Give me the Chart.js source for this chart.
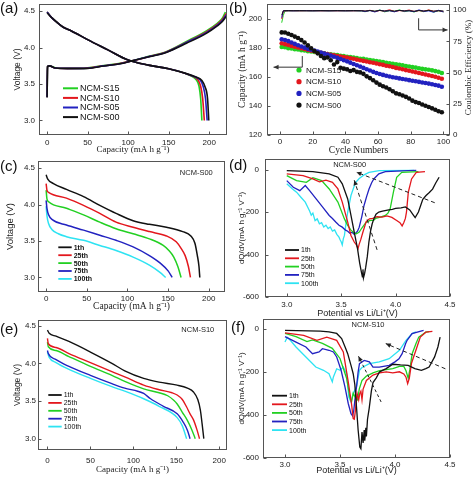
<!DOCTYPE html>
<html>
<head>
<meta charset="utf-8">
<script src="https://cdn.jsdelivr.net/npm/chart.js@4.4.1/dist/chart.umd.min.js"></script>
<style>
  body { margin: 0; background: #fff; }
  #page { position: relative; width: 474px; height: 480px; overflow: hidden; background: #fff; }
  #page canvas { position: absolute; }
  .tag { position: absolute; font: 15px "Liberation Sans", Arial, sans-serif; line-height: 15px; color: #111; z-index: 5; }
</style>
</head>
<body>
<div id="page">
  <canvas id="pa" width="237" height="155" style="left:0;top:0"></canvas>
  <canvas id="pb" width="237" height="156" style="left:237px;top:0"></canvas>
  <canvas id="pc" width="237" height="154" style="left:0;top:158px"></canvas>
  <canvas id="pd" width="237" height="163" style="left:237px;top:156px"></canvas>
  <canvas id="pe" width="237" height="158" style="left:0;top:317px"></canvas>
  <canvas id="pf" width="237" height="160" style="left:237px;top:316px"></canvas>
  <div class="tag" style="left:0;top:0">(a)</div>
  <div class="tag" style="left:229px;top:0">(b)</div>
  <div class="tag" style="left:0;top:158px">(c)</div>
  <div class="tag" style="left:229px;top:157px">(d)</div>
  <div class="tag" style="left:0;top:321px">(e)</div>
  <div class="tag" style="left:231px;top:319px">(f)</div>
</div>
<script>
// ---------- data ----------
// (a) first cycle, [capacity, voltage]
const aChgS15 = [[0,3.32],[0.5,3.74],[3,3.75],[10,3.725],[25,3.72],[50,3.725],[70,3.755],[90,3.785],[105,3.82],[127,3.885],[147,3.945],[172,4.085],[197,4.235],[210,4.335],[216,4.40],[220,4.49]];
const aChgS10 = [[0,3.32],[0.5,3.74],[3,3.75],[10,3.72],[25,3.715],[50,3.72],[70,3.752],[90,3.782],[105,3.82],[127,3.882],[147,3.94],[172,4.075],[197,4.22],[210,4.32],[216,4.385],[221,4.47]];
const aChgS05 = [[0,3.32],[0.5,3.74],[3,3.75],[10,3.72],[25,3.715],[50,3.718],[70,3.75],[90,3.78],[105,3.82],[127,3.88],[147,3.937],[172,4.07],[197,4.21],[210,4.31],[216,4.37],[221,4.45]];
const aChgS00 = [[0,3.32],[0.5,3.74],[3,3.75],[10,3.72],[25,3.712],[50,3.716],[70,3.748],[90,3.778],[105,3.82],[127,3.878],[147,3.935],[172,4.06],[197,4.20],[210,4.30],[216,4.355],[221,4.43]];
const aDisS15 = [[0,4.49],[5,4.42],[12,4.35],[20,4.28],[30,4.23],[50,4.11],[75,3.97],[100,3.83],[125,3.76],[150,3.71],[170,3.65],[178,3.61],[184,3.56],[187.5,3.47],[189.5,3.3],[191,3.0]];
const aDisS10 = [[0,4.49],[5,4.42],[12,4.35],[20,4.28],[30,4.23],[50,4.11],[75,3.97],[100,3.83],[125,3.76],[150,3.71],[170,3.65],[180,3.605],[186,3.56],[189.5,3.47],[192,3.3],[194,3.0]];
const aDisS05 = [[0,4.49],[5,4.42],[12,4.35],[20,4.28],[30,4.23],[50,4.11],[75,3.97],[100,3.83],[125,3.76],[150,3.71],[170,3.65],[182,3.60],[189,3.555],[192.5,3.47],[195.5,3.3],[197.5,3.0]];
const aDisS00 = [[0,4.48],[5,4.42],[12,4.35],[20,4.28],[30,4.23],[50,4.11],[75,3.97],[100,3.83],[125,3.76],[150,3.71],[170,3.65],[183,3.60],[191,3.55],[195,3.46],[198,3.3],[199.5,3.0]];

// (b) cycling, capacity (mA h/g) and coulombic efficiency (%)
const cycles = [1,3,5,7,9,11,13,15,17,19,21,23,25,27,29,31,33,35,37,39,41,43,45,47,49,51,53,55,57,59,61,63,65,67,69,71,73,75,77,79,81,83,85,87,89,91,93,95,97,99];
const capS15 = [180.5,180.3,179.6,179.5,178.9,178.8,178.2,178.1,177.6,177.4,177.0,176.8,176.3,176.1,175.7,175.4,175.1,174.9,174.4,174.3,173.8,173.5,173.2,172.9,172.4,172.3,171.8,171.5,171.1,170.8,170.4,170.1,169.6,169.3,169.0,168.5,168.3,167.8,167.4,167.1,166.6,166.3,165.9,165.4,165.1,164.8,164.4,163.9,163.4,162.6];
const capS10 = [183.0,182.4,181.9,181.2,180.7,180.1,179.6,179.1,178.5,178.0,177.5,176.9,176.5,176.0,175.6,175.1,174.8,174.3,173.9,173.6,173.2,172.7,172.4,171.8,171.4,170.9,170.5,170.0,169.6,169.1,168.6,168.2,167.6,167.2,166.7,166.1,165.7,165.2,164.6,164.1,163.6,163.1,162.6,162.1,161.6,161.1,160.5,160.0,159.3,158.6];
const capS05 = [185.8,185.3,184.5,183.6,182.6,181.7,180.8,180.0,179.2,178.6,178.0,177.3,176.6,175.9,175.2,174.5,173.8,173.0,172.2,171.4,170.6,169.7,168.8,167.9,167.0,166.1,165.2,164.3,163.4,162.6,161.9,161.3,160.7,160.2,159.7,159.3,158.9,158.5,158.1,157.7,157.3,156.9,156.5,156.1,155.7,155.3,154.9,154.4,153.9,153.2];
const capS00 = [190.5,190.4,189.6,188.7,187.6,186.6,185.2,183.6,181.6,179.6,177.7,176.1,174.3,172.8,173.2,171.4,168.4,170.1,166.2,165.6,165.1,164.0,164.6,163.4,163.0,162.0,160.3,159.1,157.6,156.0,154.6,153.5,152.6,151.4,150.1,148.6,148.0,147.1,146.2,145.1,143.6,142.6,142.0,141.0,140.1,139.2,138.3,137.3,136.3,135.6];
const ceCycles = [1,2,3,5,8,12,16,20,25,30,35,40,45,50,52,55,58,61,64,67,70,73,76,79,82,85,88,91,94,97,100];
const ceS15 = [90,96,99.4,99.5,99.6,99.5,99.6,99.5,99.6,99.5,99.6,99.5,99.6,99.4,98.8,99.9,99.0,100.2,98.7,99.8,99.1,100.3,98.9,99.7,98.6,99.9,98.8,100.1,98.5,99.6,98.7];
const ceS10 = [93,99.3,99.5,99.6,99.6,99.5,99.6,99.6,99.5,99.6,99.5,99.6,99.5,99.7,99.1,100.0,98.9,99.8,99.3,100.4,99.0,99.7,99.4,100.2,99.0,99.8,99.2,100.3,99.1,99.7,98.9];
const ceS05 = [94,99.5,99.6,99.6,99.5,99.6,99.6,99.5,99.6,99.5,99.6,99.5,99.6,99.5,99.0,99.8,98.6,100.1,99.2,99.7,98.7,100.0,99.3,99.6,98.8,100.3,99.1,99.5,98.4,100.0,98.6];
const ceS00 = [96,99.6,99.6,99.7,99.6,99.7,99.6,99.6,99.7,99.6,99.7,99.6,99.7,99.6,99.4,99.7,99.3,99.8,99.4,99.6,99.3,99.8,99.5,99.6,99.2,99.7,99.4,99.8,99.3,99.6,99.4];

// (c) NCM-S00 discharge, [capacity, voltage]
const c1 = [[0,4.41],[2,4.35],[9,4.29],[25,4.21],[46,4.11],[66,3.99],[86,3.88],[107,3.78],[127,3.73],[148,3.69],[168,3.63],[178,3.57],[183,3.47],[186,3.3],[188,3.15],[189,3.0]];
const c25 = [[0,4.29],[1,4.2],[3,4.17],[25,4.09],[46,3.99],[66,3.88],[86,3.76],[107,3.69],[127,3.63],[148,3.57],[160,3.49],[166,3.40],[171,3.3],[175,3.15],[177.5,3.0]];
const c50 = [[0,4.2],[1,4.08],[3,4.04],[25,3.95],[46,3.86],[66,3.76],[86,3.67],[107,3.6],[127,3.53],[144,3.44],[151,3.37],[157,3.28],[162,3.15],[166,3.0]];
const c75 = [[0,4.06],[1,3.95],[3,3.86],[8,3.79],[25,3.72],[46,3.65],[66,3.58],[86,3.51],[107,3.42],[127,3.3],[140,3.2],[150,3.09],[155,3.0]];
const c100 = [[0,3.98],[1,3.85],[3,3.74],[7,3.66],[15,3.60],[25,3.56],[46,3.51],[66,3.44],[86,3.37],[107,3.28],[127,3.17],[140,3.07],[147,3.0]];

// (d) NCM-S00 dQ/dV, [potential, dQ/dV]
const d1 = [[3.0,-5],[3.24,-9],[3.39,-20],[3.47,-36],[3.51,-67],[3.56,-138],[3.59,-216],[3.62,-294],[3.65,-372],[3.67,-440],[3.685,-480],[3.695,-505],[3.70,-470],[3.705,-510],[3.715,-490],[3.725,-462],[3.74,-410],[3.755,-340],[3.77,-290],[3.785,-255],[3.80,-232],[3.82,-210],[3.846,-200],[3.88,-196],[3.937,-190],[3.97,-187],[4.0,-183],[4.05,-180],[4.09,-176],[4.13,-190],[4.16,-212],[4.18,-226],[4.21,-200],[4.25,-140],[4.28,-122],[4.31,-108],[4.34,-92],[4.37,-62],[4.40,-36]];
const d25 = [[3.0,-20],[3.15,-28],[3.24,-44],[3.30,-58],[3.36,-50],[3.42,-60],[3.47,-91],[3.51,-153],[3.56,-247],[3.59,-310],[3.62,-341],[3.64,-355],[3.655,-372],[3.665,-352],[3.68,-330],[3.70,-294],[3.73,-245],[3.76,-232],[3.79,-230],[3.83,-222],[3.876,-224],[3.92,-218],[3.966,-225],[4.01,-240],[4.04,-250],[4.06,-265],[4.075,-250],[4.09,-230],[4.10,-200],[4.117,-106],[4.147,-44],[4.19,-13],[4.27,-9]];
const d50 = [[3.0,-28],[3.09,-52],[3.18,-60],[3.24,-38],[3.32,-52],[3.39,-91],[3.47,-153],[3.53,-232],[3.56,-263],[3.59,-285],[3.62,-298],[3.64,-302],[3.666,-294],[3.69,-275],[3.726,-250],[3.76,-240],[3.80,-238],[3.816,-230],[3.86,-224],[3.906,-216],[3.93,-205],[3.95,-185],[3.98,-106],[4.01,-36],[4.057,-13],[4.21,-9]];
const d75 = [[3.0,-52],[3.06,-83],[3.12,-99],[3.17,-75],[3.21,-99],[3.27,-138],[3.33,-177],[3.39,-216],[3.42,-230],[3.45,-247],[3.48,-262],[3.51,-271],[3.54,-285],[3.56,-290],[3.58,-300],[3.60,-295],[3.62,-305],[3.635,-298],[3.65,-290],[3.666,-271],[3.69,-220],[3.71,-169],[3.735,-125],[3.756,-91],[3.78,-62],[3.80,-44],[3.846,-20],[3.906,-9],[4.117,-5],[4.19,-4]];
const d100 = [[3.0,-67],[3.05,-90],[3.09,-106],[3.13,-130],[3.17,-153],[3.21,-195],[3.225,-215],[3.24,-205],[3.26,-240],[3.28,-232],[3.30,-255],[3.32,-250],[3.34,-270],[3.36,-262],[3.38,-278],[3.40,-270],[3.42,-290],[3.44,-284],[3.46,-305],[3.48,-318],[3.49,-330],[3.50,-340],[3.51,-355],[3.52,-325],[3.53,-310],[3.545,-250],[3.56,-200],[3.59,-122],[3.63,-62],[3.666,-42],[3.71,-25],[3.756,-13],[3.85,-5],[4.17,-4]];

// (e) NCM-S10 discharge, [capacity, voltage]
const e1 = [[0,4.44],[2,4.40],[10,4.36],[25,4.29],[50,4.15],[75,4.00],[90,3.90],[112,3.80],[130,3.75],[151,3.71],[163,3.67],[170,3.62],[175,3.52],[178,3.38],[180,3.2],[182,3.0]];
const e25 = [[0,4.33],[1,4.26],[10,4.21],[25,4.13],[50,4.01],[75,3.89],[90,3.82],[112,3.71],[130,3.65],[145,3.61],[151,3.58],[157,3.52],[162,3.42],[166,3.33],[170,3.25],[174,3.12],[177,3.0]];
const e50 = [[0,4.28],[1,4.22],[10,4.17],[25,4.09],[50,3.96],[75,3.84],[90,3.76],[112,3.66],[130,3.61],[140,3.57],[147,3.51],[151,3.46],[157,3.35],[163,3.24],[168,3.12],[172,3.0]];
const e75 = [[0,4.17],[1,4.13],[10,4.05],[25,3.96],[50,3.84],[75,3.73],[90,3.67],[105,3.63],[112,3.60],[120,3.53],[135,3.43],[151,3.33],[158,3.22],[163,3.11],[166,3.0]];
const e100 = [[0,4.15],[2,4.08],[10,4.01],[25,3.92],[50,3.80],[75,3.69],[90,3.63],[112,3.53],[130,3.43],[151,3.28],[157,3.17],[162,3.0]];

// (f) NCM-S10 dQ/dV, [potential, dQ/dV]
const f1 = [[3.0,-8],[3.32,-11],[3.40,-15],[3.47,-22],[3.515,-46],[3.55,-90],[3.57,-116],[3.60,-170],[3.62,-209],[3.635,-260],[3.65,-363],[3.665,-471],[3.68,-549],[3.69,-557],[3.70,-480],[3.71,-530],[3.72,-470],[3.725,-520],[3.735,-460],[3.74,-500],[3.75,-420],[3.765,-371],[3.785,-290],[3.80,-250],[3.83,-228],[3.86,-200],[3.92,-185],[3.98,-165],[4.05,-168],[4.12,-170],[4.18,-185],[4.24,-193],[4.28,-185],[4.31,-178],[4.36,-131],[4.39,-85],[4.41,-39]];
const f25 = [[3.0,-19],[3.17,-31],[3.29,-54],[3.38,-39],[3.47,-54],[3.53,-108],[3.575,-247],[3.605,-350],[3.62,-417],[3.63,-420],[3.64,-380],[3.655,-300],[3.67,-330],[3.68,-300],[3.69,-290],[3.70,-330],[3.71,-280],[3.74,-240],[3.80,-215],[3.86,-205],[3.92,-200],[3.98,-205],[4.04,-200],[4.08,-210],[4.10,-225],[4.115,-255],[4.13,-230],[4.15,-160],[4.19,-100],[4.23,-39],[4.28,-16],[4.34,-12]];
const f50 = [[3.0,-22],[3.1,-37],[3.2,-60],[3.25,-52],[3.34,-68],[3.43,-91],[3.50,-138],[3.56,-230],[3.59,-320],[3.605,-340],[3.62,-300],[3.64,-320],[3.66,-330],[3.675,-280],[3.70,-240],[3.74,-220],[3.80,-205],[3.86,-195],[3.92,-190],[3.98,-185],[4.04,-175],[4.08,-175],[4.10,-195],[4.12,-230],[4.135,-190],[4.156,-116],[4.19,-70],[4.216,-39],[4.28,-16],[4.31,-14]];
const f75 = [[3.0,-37],[3.1,-62],[3.19,-85],[3.25,-116],[3.31,-108],[3.34,-93],[3.40,-100],[3.44,-108],[3.47,-131],[3.51,-193],[3.545,-270],[3.575,-347],[3.60,-394],[3.615,-405],[3.625,-380],[3.635,-332],[3.65,-270],[3.665,-200],[3.677,-162],[3.72,-147],[3.767,-154],[3.8,-178],[3.857,-178],[3.947,-170],[4.0,-154],[4.036,-140],[4.065,-116],[4.096,-70],[4.11,-54],[4.155,-23],[4.26,-8]];
const f100 = [[3.0,-62],[3.02,-40],[3.05,-55],[3.1,-85],[3.19,-131],[3.28,-178],[3.35,-193],[3.40,-209],[3.43,-247],[3.44,-224],[3.47,-186],[3.50,-193],[3.53,-178],[3.56,-209],[3.58,-317],[3.60,-340],[3.62,-300],[3.65,-270],[3.677,-193],[3.70,-180],[3.767,-162],[3.857,-154],[3.947,-139],[4.04,-100],[4.1,-54],[4.156,-23],[4.19,-15]];

// tick labels
const capTicks = [0, 50, 100, 150, 200];
const voltTicks = [3.0, 3.5, 4.0, 4.5];
const cycleTicks = [0, 20, 40, 60, 80, 100];
const bCapTicks = [120, 140, 160, 180, 200];
const ceTicks = [0, 25, 50, 75, 100];
const potTicks = [3.0, 3.5, 4.0, 4.5];
const dqTicks = [-600, -400, -200, 0];

const sampleNames = ['NCM-S15', 'NCM-S10', 'NCM-S05', 'NCM-S00'];
const cycleNames = ['1th', '25th', '50th', '75th', '100th'];

// ---------- styling ----------
const COL = { black: '#111111', red: '#e3171d', green: '#22d022', blue: '#2222c0', cyan: '#2ee3f2' };
const SANS = '"Liberation Sans", Arial, sans-serif';
const SERIF = '"Liberation Serif", "Times New Roman", serif';
const tickFont = { family: SANS, size: 8 };

Chart.defaults.animation = false;
Chart.defaults.font.family = SANS;

const boxPlugin = {
  id: 'box',
  afterDatasetsDraw(chart) {
    const { ctx, chartArea: a, scales } = chart;
    ctx.save();
    ctx.strokeStyle = '#555';
    ctx.lineWidth = 1;
    const l = Math.round(a.left) + 0.5, t = Math.round(a.top) + 0.5;
    const r = Math.round(a.right) - 0.5, b = Math.round(a.bottom) - 0.5;
    ctx.strokeRect(l, t, r - l, b - t);
    ctx.beginPath();
    Object.values(scales).forEach(s => {
      s.ticks.forEach(tk => {
        const p = Math.round(s.getPixelForValue(tk.value)) + 0.5;
        if (s.isHorizontal()) {
          ctx.moveTo(p, b); ctx.lineTo(p, b - 3);
        } else if (s.position === 'left') {
          ctx.moveTo(l, p); ctx.lineTo(l + 3, p);
        } else {
          ctx.moveTo(r, p); ctx.lineTo(r - 3, p);
        }
      });
    });
    ctx.stroke();
    ctx.restore();
  }
};

const legendPlugin = {
  id: 'inlegend',
  afterDatasetsDraw(chart, args, o) {
    if (!o || !o.labels) return;
    const { ctx, chartArea: a } = chart;
    ctx.save();
    ctx.font = o.font;
    ctx.textBaseline = 'middle';
    o.labels.forEach((lab, i) => {
      const ds = chart.data.datasets.find(d => d.label === lab);
      const x = a.left + o.x, y = a.top + o.y + i * o.gap;
      if (o.dot) {
        ctx.fillStyle = ds.pointBackgroundColor;
        ctx.beginPath(); ctx.arc(x + 3, y, 2.6, 0, Math.PI * 2); ctx.fill();
      } else {
        ctx.strokeStyle = ds.borderColor; ctx.lineWidth = o.lw;
        ctx.beginPath(); ctx.moveTo(x, y); ctx.lineTo(x + o.len, y); ctx.stroke();
      }
      ctx.fillStyle = '#111';
      ctx.fillText(lab, x + o.len + 2, y + 0.5);
    });
    ctx.restore();
  }
};

const notesPlugin = {
  id: 'notes',
  afterDatasetsDraw(chart, args, o) {
    if (!o) return;
    const { ctx, scales } = chart;
    (o.arrows || []).forEach(ar => {
      const ys = scales[ar.axis || 'y'];
      const pts = ar.pts.map(p => [scales.x.getPixelForValue(p[0]), ys.getPixelForValue(p[1])]);
      ctx.save();
      ctx.strokeStyle = ar.color; ctx.fillStyle = ar.color; ctx.lineWidth = 1;
      ctx.setLineDash(ar.dash || []);
      ctx.beginPath();
      pts.forEach((p, i) => i ? ctx.lineTo(p[0], p[1]) : ctx.moveTo(p[0], p[1]));
      ctx.stroke();
      ctx.setLineDash([]);
      const [x1, y1] = pts[pts.length - 2], [x2, y2] = pts[pts.length - 1];
      const ang = Math.atan2(y2 - y1, x2 - x1), L = 5, W = 2.3;
      ctx.beginPath();
      ctx.moveTo(x2, y2);
      ctx.lineTo(x2 - L * Math.cos(ang) + W * Math.sin(ang), y2 - L * Math.sin(ang) - W * Math.cos(ang));
      ctx.lineTo(x2 - L * Math.cos(ang) - W * Math.sin(ang), y2 - L * Math.sin(ang) + W * Math.cos(ang));
      ctx.closePath(); ctx.fill();
      ctx.restore();
    });
    (o.texts || []).forEach(t => {
      ctx.save();
      ctx.font = t.font; ctx.fillStyle = '#222';
      ctx.textAlign = 'center'; ctx.textBaseline = 'middle';
      const x = t.px !== undefined ? t.px : scales.x.getPixelForValue(t.x);
      const y = t.py !== undefined ? t.py : scales.y.getPixelForValue(t.y);
      ctx.translate(x, y);
      if (t.rot) ctx.rotate(t.rot);
      ctx.fillText(t.text, 0, 0);
      ctx.restore();
    });
  }
};

Chart.register(boxPlugin, legendPlugin, notesPlugin);

function zeroPad(s) { s.paddingLeft = 0; s.paddingRight = 0; s.paddingTop = 0; s.paddingBottom = 0; }

function axis(o) {
  const horiz = o.pos === 'bottom';
  return {
    type: 'linear', position: o.pos, min: o.min, max: o.max, bounds: 'data',
    grid: { display: false, drawTicks: false },
    border: { display: false },
    afterBuildTicks: s => { s.ticks = o.ticks.map(v => ({ value: v })); },
    afterFit: s => { if (horiz) s.height = o.size; else s.width = o.size; zeroPad(s); },
    ticks: { padding: o.pad, autoSkip: false, maxRotation: 0, color: '#222', font: tickFont,
             callback: o.fmt || (v => String(v)) },
    title: { display: !!o.title, text: o.title, color: '#222', font: o.tfont, padding: o.tpad || 0 }
  };
}

const oneDec = v => v.toFixed(1);

function lineSet(label, data, color, w, smooth) {
  return { label, data, borderColor: color, backgroundColor: color, borderWidth: w,
           pointRadius: 0, fill: false, tension: smooth ? 0.4 : 0,
           cubicInterpolationMode: smooth ? 'monotone' : 'default' };
}

function baseOptions(pad, scales, plugins) {
  return {
    responsive: false, animation: false, events: [],
    layout: { padding: pad },
    scales,
    plugins: Object.assign({ legend: { display: false }, tooltip: { enabled: false } }, plugins)
  };
}

const capTitle = 'Capacity (mA h g\u207B\u00B9)';
const voltTitle = 'Voltage (V)';
const potTitle = 'Potential vs Li/Li\u207A(V)';
const dqTitle = 'dQ/dV(mA h g\u207B\u00B9 V\u207B\u00B9)';

// ---------- (a) ----------
new Chart(document.getElementById('pa'), {
  type: 'line',
  data: { datasets: [
    lineSet('NCM-S00', aChgS00, COL.black, 1.6, true),
    lineSet('NCM-S00', aDisS00, COL.black, 1.6, true),
    lineSet('NCM-S05', aChgS05, COL.blue, 1.6, true),
    lineSet('NCM-S05', aDisS05, COL.blue, 1.6, true),
    lineSet('NCM-S10', aChgS10, COL.red, 1.6, true),
    lineSet('NCM-S10', aDisS10, COL.red, 1.6, true),
    lineSet('NCM-S15', aChgS15, COL.green, 1.6, true),
    lineSet('NCM-S15', aDisS15, COL.green, 1.6, true)
  ] },
  options: baseOptions({ top: 4, right: 10, left: 0, bottom: 0 }, {
    x: axis({ pos: 'bottom', min: -10, max: 222, ticks: capTicks, size: 20, pad: 3, title: capTitle, tfont: { family: SERIF, size: 9 } }),
    y: axis({ pos: 'left', min: 2.8, max: 4.6, ticks: voltTicks, size: 39, pad: 4, fmt: oneDec, title: voltTitle, tfont: { family: SANS, size: 8.5 }, tpad: 13 })
  }, {
    inlegend: { labels: sampleNames, x: 24, y: 84.3, gap: 9.6, len: 15, lw: 2, font: '9px ' + SANS }
  })
});

// ---------- (b) ----------
const bDots = (label, vals, color) => ({
  label, data: cycles.map((c, i) => [c, vals[i]]), showLine: false, yAxisID: 'y',
  pointRadius: 2.3, pointBorderWidth: 0, pointBackgroundColor: color, borderColor: color, backgroundColor: color
});
const bCE = (label, vals, color) => ({
  label, data: ceCycles.map((c, i) => [c, vals[i]]), yAxisID: 'y2', borderColor: color, borderWidth: 1,
  pointRadius: 0, fill: false, tension: 0
});
new Chart(document.getElementById('pb'), {
  type: 'line',
  data: { datasets: [
    bCE('CE S00', ceS00, COL.black),
    bCE('CE S05', ceS05, COL.blue),
    bCE('CE S10', ceS10, COL.red),
    bCE('CE S15', ceS15, COL.green),
    bDots('NCM-S00', capS00, COL.black),
    bDots('NCM-S05', capS05, COL.blue),
    bDots('NCM-S10', capS10, COL.red),
    bDots('NCM-S15', capS15, COL.green)
  ] },
  options: baseOptions({ top: 4, right: 0, left: 0, bottom: 0 }, {
    x: axis({ pos: 'bottom', min: -8, max: 104, ticks: cycleTicks, size: 21, pad: 2, title: 'Cycle Numbers', tfont: { family: SERIF, size: 9.5 } }),
    y: axis({ pos: 'left', min: 120, max: 210, ticks: bCapTicks, size: 30, pad: 5, title: capTitle, tfont: { family: SERIF, size: 9.5 } }),
    y2: axis({ pos: 'right', min: 0, max: 105, ticks: ceTicks, size: 24, pad: 3 })
  }, {
    inlegend: { labels: sampleNames, x: 29, y: 66, gap: 11.7, len: 8, dot: true, font: '8px ' + SANS },
    notes: {
      arrows: [
        { pts: [[13.6, 174.2], [13.6, 166.6], [-4, 166.6]], color: '#333' },
        { pts: [[84.8, 200.2], [84.8, 192.2], [102.5, 192.2]], color: '#333' }
      ],
      texts: [{ px: 231.5, py: 67.5, rot: -Math.PI / 2, text: 'Coulombic Efficiency (%)', font: '9px ' + SERIF }]
    }
  })
});

// ---------- (c) ----------
new Chart(document.getElementById('pc'), {
  type: 'line',
  data: { datasets: [
    lineSet('1th', c1, COL.black, 1.5, true),
    lineSet('25th', c25, COL.red, 1.5, true),
    lineSet('50th', c50, COL.green, 1.5, true),
    lineSet('75th', c75, COL.blue, 1.5, true),
    lineSet('100th', c100, COL.cyan, 1.5, true)
  ] },
  options: baseOptions({ top: 3, right: 12, left: 0, bottom: 0 }, {
    x: axis({ pos: 'bottom', min: -10, max: 220, ticks: capTicks, size: 20, pad: 1.5, title: capTitle, tfont: { family: SERIF, size: 9.5 } }),
    y: axis({ pos: 'left', min: 2.8, max: 4.6, ticks: voltTicks, size: 38, pad: 3, fmt: oneDec, title: voltTitle, tfont: { family: SANS, size: 9.5 }, tpad: 5 })
  }, {
    inlegend: { labels: cycleNames, x: 20.3, y: 86.3, gap: 7.9, len: 13.4, lw: 1.8, font: 'bold 7px ' + SANS },
    notes: { texts: [{ x: 184.7, y: 4.44, text: 'NCM-S00', font: '7.5px ' + SANS }] }
  })
});

// ---------- (d) ----------
new Chart(document.getElementById('pd'), {
  type: 'line',
  data: { datasets: [
    lineSet('1th', d1, COL.black, 1.3, false),
    lineSet('25th', d25, COL.red, 1.3, false),
    lineSet('50th', d50, COL.green, 1.3, false),
    lineSet('75th', d75, COL.blue, 1.3, false),
    lineSet('100th', d100, COL.cyan, 1.3, false)
  ] },
  options: baseOptions({ top: 3, right: 24, left: 0, bottom: 0 }, {
    x: axis({ pos: 'bottom', min: 2.8, max: 4.5, ticks: potTicks, size: 22, pad: 3, fmt: oneDec, title: potTitle, tfont: { family: SANS, size: 9 } }),
    y: axis({ pos: 'left', min: -600, max: 50, ticks: dqTicks, size: 28, pad: 6, title: dqTitle, tfont: { family: SANS, size: 8 } })
  }, {
    inlegend: { labels: cycleNames, x: 20, y: 91, gap: 8.3, len: 14, lw: 1.8, font: '7px ' + SANS },
    notes: {
      arrows: [
        { pts: [[3.83, -378], [3.62, -50]], color: '#222', dash: [4, 3] },
        { pts: [[4.36, -156], [3.64, -12]], color: '#222', dash: [4, 3] }
      ],
      texts: [{ x: 3.578, y: 23, text: 'NCM-S00', font: '7.5px ' + SANS }]
    }
  })
});

// ---------- (e) ----------
new Chart(document.getElementById('pe'), {
  type: 'line',
  data: { datasets: [
    lineSet('1th', e1, COL.black, 1.4, true),
    lineSet('25th', e25, COL.red, 1.4, true),
    lineSet('50th', e50, COL.green, 1.4, true),
    lineSet('75th', e75, COL.blue, 1.4, true),
    lineSet('100th', e100, COL.cyan, 1.4, true)
  ] },
  options: baseOptions({ top: 3, right: 10, left: 0, bottom: 0 }, {
    x: axis({ pos: 'bottom', min: -11, max: 209, ticks: capTicks, size: 25, pad: 6, title: capTitle, tfont: { family: SERIF, size: 9 } }),
    y: axis({ pos: 'left', min: 2.85, max: 4.575, ticks: voltTicks, size: 38, pad: 2, fmt: oneDec, title: voltTitle, tfont: { family: SANS, size: 8.5 }, tpad: 13 })
  }, {
    inlegend: { labels: cycleNames, x: 10.3, y: 75, gap: 7.9, len: 13.4, lw: 1.8, font: '7px ' + SANS },
    notes: { texts: [{ x: 175, y: 4.443, text: 'NCM-S10', font: '7.5px ' + SANS }] }
  })
});

// ---------- (f) ----------
new Chart(document.getElementById('pf'), {
  type: 'line',
  data: { datasets: [
    lineSet('1th', f1, COL.black, 1.3, false),
    lineSet('25th', f25, COL.red, 1.3, false),
    lineSet('50th', f50, COL.green, 1.3, false),
    lineSet('75th', f75, COL.blue, 1.3, false),
    lineSet('100th', f100, COL.cyan, 1.3, false)
  ] },
  options: baseOptions({ top: 3, right: 24, left: 0, bottom: 0 }, {
    x: axis({ pos: 'bottom', min: 2.8, max: 4.5, ticks: potTicks, size: 18, pad: 2, fmt: oneDec, title: potTitle, tfont: { family: SANS, size: 9 } }),
    y: axis({ pos: 'left', min: -600, max: 45, ticks: dqTicks, size: 26, pad: 4, title: dqTitle, tfont: { family: SANS, size: 8 } })
  }, {
    inlegend: { labels: cycleNames, x: 9, y: 76.7, gap: 8.6, len: 15, lw: 1.8, font: '7px ' + SANS },
    notes: {
      arrows: [
        { pts: [[3.874, -340], [3.668, -128]], color: '#222', dash: [3, 2.5] },
        { pts: [[4.458, -186], [3.916, -69]], color: '#222', dash: [4, 3] }
      ],
      texts: [{ x: 3.755, y: 18.6, text: 'NCM-S10', font: '7.5px ' + SANS }]
    }
  })
});
</script>
</body>
</html>
